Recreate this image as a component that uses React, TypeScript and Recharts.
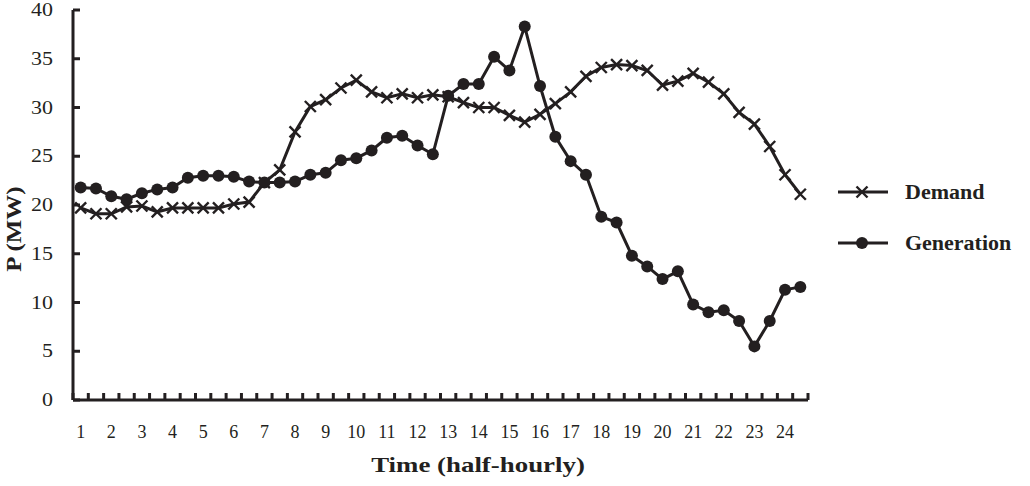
import { Legend, Line, LineChart, XAxis, YAxis } from "recharts";

// Half-hourly demand vs generation, 48 slots; axis is labelled by the hour (1..24).
const INK = "#231F20";
const SERIF = '"Liberation Serif", "Times New Roman", serif';

const HOUR_LABELS = [
  "1", "2", "3", "4", "5", "6", "7", "8", "9", "10", "11", "12",
  "13", "14", "15", "16", "17", "18", "19", "20", "21", "22", "23", "24",
];

const DEMAND = [
  19.7, 19.1, 19.1, 19.8, 19.9, 19.3, 19.7, 19.7, 19.7, 19.7, 20.1, 20.3,
  22.3, 23.6, 27.5, 30.1, 30.8, 32.0, 32.8, 31.6, 31.0, 31.4, 31.0, 31.3,
  31.1, 30.5, 30.0, 30.0, 29.2, 28.5, 29.3, 30.4, 31.6, 33.2, 34.1, 34.4,
  34.3, 33.8, 32.3, 32.7, 33.5, 32.6, 31.4, 29.5, 28.3, 26.0, 23.1, 21.1,
];

const GENERATION = [
  21.8, 21.7, 20.9, 20.6, 21.2, 21.6, 21.8, 22.8, 23.0, 23.0, 22.9, 22.4,
  22.3, 22.3, 22.4, 23.1, 23.3, 24.6, 24.8, 25.6, 26.9, 27.1, 26.1, 25.2,
  31.2, 32.4, 32.4, 35.2, 33.8, 38.3, 32.2, 27.0, 24.5, 23.1, 18.8, 18.2,
  14.8, 13.7, 12.4, 13.2, 9.8, 9.0, 9.2, 8.1, 5.5, 8.1, 11.3, 11.6,
];

const Y_TICKS = [0, 5, 10, 15, 20, 25, 30, 35, 40];

const data = DEMAND.map((d, i) => ({
  slot: i,
  label: i % 2 === 0 ? HOUR_LABELS[i / 2] : "",
  demand: d,
  generation: GENERATION[i],
}));

const PLOT_LEFT = 73;
const PLOT_RIGHT = 808;
const HALF_STEP = (PLOT_RIGHT - PLOT_LEFT) / data.length / 2;

function CrossDot({ cx, cy }: { cx?: number; cy?: number }) {
  if (cx == null || cy == null) return null;
  const r = 5.5;
  return (
    <g stroke={INK} strokeWidth={2.4}>
      <line x1={cx - r} y1={cy - r} x2={cx + r} y2={cy + r} />
      <line x1={cx - r} y1={cy + r} x2={cx + r} y2={cy - r} />
    </g>
  );
}

// inward tick marks sit between the half-hour slots, like the original's category axis
function XTick(props: any) {
  const { x, y, payload } = props;
  const i = payload.index;
  const label = data[i]?.label;
  const left = x - HALF_STEP;
  const right = x + HALF_STEP;
  return (
    <g>
      <path d={`M${left},${y}V${y - 7}`} stroke={INK} strokeWidth={3} fill="none" />
      {i === data.length - 1 && <path d={`M${right},${y}V${y - 7}`} stroke={INK} strokeWidth={3} fill="none" />}
      {label && (
        <text x={x} y={y + 38} textAnchor="middle" fontFamily={SERIF} fontSize={18} fill={INK}>
          {label}
        </text>
      )}
    </g>
  );
}

function YTick(props: any) {
  const { x, y, payload } = props;
  return (
    <g>
      <path d={`M${x},${y}H${x + 7}`} stroke={INK} strokeWidth={3} fill="none" />
      <text
        transform={`translate(${x - 20},${y + 6}) scale(1.22,1)`}
        textAnchor="end"
        fontFamily={SERIF}
        fontSize={18}
        fill={INK}
      >
        {payload.value}
      </text>
    </g>
  );
}

function YTitle() {
  return (
    <text
      transform="translate(21,229) rotate(-90) scale(1.25,1)"
      textAnchor="middle"
      fontFamily={SERIF}
      fontWeight="bold"
      fontSize={20}
      fill={INK}
    >
      P (MW)
    </text>
  );
}

function XTitle() {
  return (
    <text
      transform="translate(478,472) scale(1.28,1)"
      textAnchor="middle"
      fontFamily={SERIF}
      fontWeight="bold"
      fontSize={21}
      fill={INK}
    >
      Time (half-hourly)
    </text>
  );
}

function LegendBox() {
  const rows = [
    { name: "Demand", y: 22, dot: "cross" },
    { name: "Generation", y: 73, dot: "circle" },
  ];
  return (
    <svg width={200} height={90}>
      {rows.map((r) => (
        <g key={r.name}>
          <line x1={8} y1={r.y} x2={58} y2={r.y} stroke={INK} strokeWidth={3} />
          {r.dot === "cross" ? <CrossDot cx={32} cy={r.y} /> : <circle cx={32} cy={r.y} r={6} fill={INK} />}
          <text
            transform={`translate(75,${r.y + 7}) scale(1.1,1)`}
            fontFamily={SERIF}
            fontWeight="bold"
            fontSize={20}
            fill={INK}
          >
            {r.name}
          </text>
        </g>
      ))}
    </svg>
  );
}

export default function App() {
  return (
    <div style={{ position: "absolute", left: 0, top: 0, background: "#fff" }}>
      <LineChart width={1030} height={486} data={data} margin={{ top: 10, right: 222, bottom: 0, left: 0 }}>
        <XAxis
          dataKey="slot"
          type="category"
          interval={0}
          height={86}
          padding={{ left: HALF_STEP, right: HALF_STEP }}
          tickSize={0}
          tickMargin={0}
          tickLine={false}
          axisLine={{ stroke: INK, strokeWidth: 3 }}
          tick={<XTick />}
          label={<XTitle />}
        />
        <YAxis
          domain={[0, 40]}
          ticks={Y_TICKS}
          width={PLOT_LEFT}
          tickSize={0}
          tickMargin={0}
          tickLine={false}
          axisLine={{ stroke: INK, strokeWidth: 3 }}
          tick={<YTick />}
          label={<YTitle />}
        />
        <Legend
          layout="vertical"
          verticalAlign="middle"
          align="center"
          content={() => <LegendBox />}
          wrapperStyle={{ position: "absolute", left: 830, top: 170, width: 200 }}
        />
        <Line
          dataKey="demand"
          name="Demand"
          stroke={INK}
          strokeWidth={3}
          dot={<CrossDot />}
          activeDot={false}
          isAnimationActive={false}
        />
        <Line
          dataKey="generation"
          name="Generation"
          stroke={INK}
          strokeWidth={3}
          dot={{ r: 6, fill: INK, stroke: INK, strokeWidth: 0 }}
          activeDot={false}
          isAnimationActive={false}
        />
      </LineChart>
    </div>
  );
}
